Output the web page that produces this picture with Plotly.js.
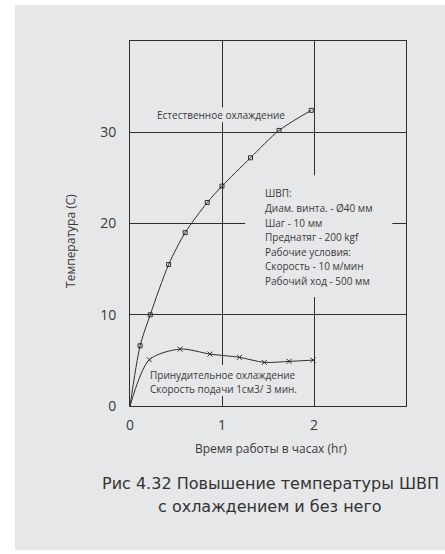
<!DOCTYPE html>
<html>
<head>
<meta charset="utf-8">
<script src="https://cdn.plot.ly/plotly-3.0.1.min.js"></script>
<style>
  html, body { margin:0; padding:0; background:#ffffff; width:445px; height:554px; overflow:hidden; }
  #bg { position:absolute; left:15px; top:5px; width:430px; height:545px; background:#e6e7e9; }
  #chart { position:absolute; left:0; top:0; width:445px; height:554px; }
</style>
</head>
<body>
<div id="bg"></div>
<div id="chart"></div>
<script>
// Natural cooling (square markers)
const naturalHours = [0.11, 0.22, 0.42, 0.60, 0.84, 1.00, 1.31, 1.62, 1.97];
const naturalTemp  = [6.6, 10.0, 15.5, 19.0, 22.3, 24.1, 27.2, 30.2, 32.4];
// Forced cooling (x markers)
const forcedHours = [0.21, 0.545, 0.87, 1.19, 1.46, 1.73, 1.99];
const forcedTemp  = [5.07, 6.24, 5.69, 5.33, 4.78, 4.89, 5.03];
// Both curves start at the origin
const startHour = 0;
const startTemp = 0;

const xTicks = [0, 1, 2];
const yTicks = [0, 10, 20, 30];

const naturalLabel = 'Естественное охлаждение';
const forcedLabels = ['Принудительное охлаждение', 'Скорость подачи 1см3/ 3 мин.'];
const specLabels = ['ШВП:', 'Диам. винта. - Ø40 мм', 'Шаг - 10 мм', 'Преднатяг - 200 kgf',
                    'Рабочие условия:', 'Скорость - 10 м/мин', 'Рабочий ход - 500 мм'];
const yTitle = 'Температура (С)';
const xTitle = 'Время работы в часах (hr)';
const caption = ['Рис 4.32 Повышение температуры ШВП', 'с охлаждением и без него'];

const ink = '#2e2e2e';
const textInk = '#3a3a3a';
const bgGray = '#e6e7e9';
const chartFont = 'Open Sans, Noto Sans, sans-serif';

const traces = [
  { x: [startHour].concat(naturalHours), y: [startTemp].concat(naturalTemp), mode: 'lines',
    line: { color: ink, width: 1, shape: 'spline', smoothing: 0.8 }, hoverinfo: 'skip', showlegend: false },
  { x: naturalHours, y: naturalTemp, mode: 'markers',
    marker: { symbol: 'square-open', size: 4, color: ink, line: { width: 1, color: ink } }, showlegend: false },
  { x: [startHour].concat(forcedHours), y: [startTemp].concat(forcedTemp), mode: 'lines',
    line: { color: ink, width: 1, shape: 'spline', smoothing: 0.8 }, hoverinfo: 'skip', showlegend: false },
  { x: forcedHours, y: forcedTemp, mode: 'markers',
    marker: { symbol: 'x-thin-open', size: 5, color: ink, line: { width: 1, color: ink } }, showlegend: false }
];

const annotations = [];
annotations.push({ x: 0.99, y: 31.9, xref: 'x', yref: 'y', text: naturalLabel, showarrow: false,
  xanchor: 'center', yanchor: 'middle', font: { family: chartFont, size: 10, color: textInk } });
specLabels.forEach((t, i) => {
  annotations.push({ x: 1.447, y: 23.3 - i * 1.6, xref: 'x', yref: 'y', text: t, showarrow: false,
    xanchor: 'left', yanchor: 'middle', font: { family: chartFont, size: 10, color: textInk } });
});
forcedLabels.forEach((t, i) => {
  annotations.push({ x: 0.196, y: 3.4 - i * 1.55, xref: 'x', yref: 'y', text: t, showarrow: false,
    xanchor: 'left', yanchor: 'middle', font: { family: chartFont, size: 10, color: textInk } });
});
annotations.push({ x: -0.2176, y: 0.452, xref: 'paper', yref: 'paper', text: yTitle, showarrow: false,
  xanchor: 'center', yanchor: 'middle', textangle: -90, font: { family: chartFont, size: 12, color: textInk } });
annotations.push({ x: 0.511, y: -0.1178, xref: 'paper', yref: 'paper', text: xTitle, showarrow: false,
  xanchor: 'center', yanchor: 'middle', font: { family: chartFont, size: 12, color: textInk } });
annotations.push({ x: 0.508, y: -0.2110, xref: 'paper', yref: 'paper', text: caption[0], showarrow: false,
  xanchor: 'center', yanchor: 'middle', font: { family: 'DejaVu Sans, sans-serif', size: 16, color: '#333333' } });
annotations.push({ x: 0.508, y: -0.2767, xref: 'paper', yref: 'paper', text: caption[1], showarrow: false,
  xanchor: 'center', yanchor: 'middle', font: { family: 'DejaVu Sans, sans-serif', size: 16, color: '#333333' } });

const shapes = [
  { type: 'rect', layer: 'between', xref: 'x', yref: 'y', x0: 1.251, x1: 2.851, y0: 11.95, y1: 25.3,
    fillcolor: bgGray, line: { width: 0 } },
  { type: 'rect', layer: 'between', xref: 'x', yref: 'y', x0: 0.22, x1: 1.76, y0: 31.1, y1: 32.7,
    fillcolor: bgGray, line: { width: 0 } },
  { type: 'rect', layer: 'between', xref: 'x', yref: 'y', x0: 0.18, x1: 1.62, y0: 1.1, y1: 4.5,
    fillcolor: bgGray, line: { width: 0 } }
];

const layout = {
  width: 445, height: 554,
  margin: { l: 130, r: 39, t: 41, b: 148 },
  paper_bgcolor: 'rgba(0,0,0,0)', plot_bgcolor: 'rgba(0,0,0,0)',
  xaxis: { range: [0, 3], tickvals: xTicks, ticktext: xTicks.map(String), showgrid: true, gridcolor: ink, gridwidth: 1,
    zeroline: false, showline: true, mirror: true, linecolor: ink, linewidth: 1, ticks: '',
    ticklabelstandoff: 6, tickfont: { family: chartFont, size: 14, color: textInk }, fixedrange: true },
  yaxis: { range: [0, 40], tickvals: yTicks, ticktext: yTicks.map(String), showgrid: true, gridcolor: ink, gridwidth: 1,
    zeroline: false, showline: true, mirror: true, linecolor: ink, linewidth: 1, ticks: '',
    ticklabelstandoff: 10, tickfont: { family: chartFont, size: 14, color: textInk }, fixedrange: true },
  annotations: annotations,
  shapes: shapes,
  showlegend: false
};

Plotly.newPlot('chart', traces, layout, { displayModeBar: false, staticPlot: true });
</script>
</body>
</html>
